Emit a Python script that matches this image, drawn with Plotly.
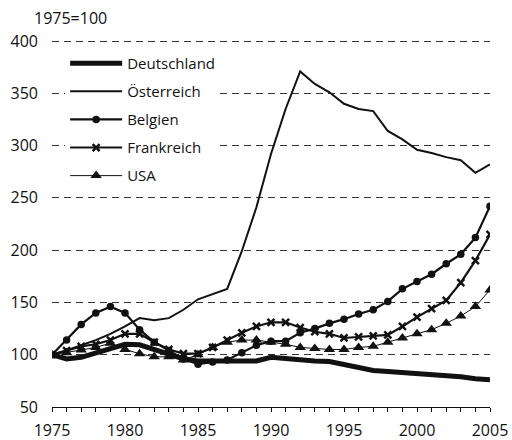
import plotly.graph_objects as go

years = list(range(1975, 2006))
deutschland = [100, 96, 97.5, 102, 106, 110, 109.5, 105, 100.5, 96, 94, 94, 94, 94, 94, 97.5, 96, 95, 94, 93.5, 90.5, 88, 85, 84, 83, 82, 81.5, 81, 79, 77, 76]
oesterreich = [100, 104, 109, 114, 120, 127, 135, 133, 135, 143, 153, 158, 163, 199, 241, 292, 335, 371, 359, 351, 340, 335, 333, 314, 306, 296, 293, 289, 286, 274, 282]
belgien = [100, 114, 129, 140, 146, 140, 124, 112, 104, 96, 91, 93, 95, 102, 109, 113, 113, 121, 125, 130, 134, 139, 143, 151, 163, 170, 177, 187, 196, 212, 242]
frankreich = [100, 104, 108, 110, 114, 120, 120, 112, 105, 101, 101, 107, 114, 121, 127, 131, 131, 126, 122, 120, 116, 117, 118, 119, 127, 136, 144, 152, 169, 190, 215]
usa = [100, 102, 104.5, 107, 111, 105, 101, 98, 98, 95, 100, 107, 112, 114, 114, 112, 110, 107, 106, 105, 105, 107, 108, 112, 116, 120, 124, 130, 137, 146, 162]
y_ticks = [50, 100, 150, 200, 250, 300, 350, 400]
x_ticks = [1975, 1980, 1985, 1990, 1995, 2000, 2005]

FONT = "Open Sans"
INK = "#111111"

fig = go.Figure()
fig.add_trace(go.Scatter(x=years, y=deutschland, name="Deutschland", mode="lines",
                         line=dict(color=INK, width=5), legendgroup="a"))
fig.add_trace(go.Scatter(x=years, y=oesterreich, name="Österreich", mode="lines",
                         line=dict(color=INK, width=2), legendgroup="b"))
fig.add_trace(go.Scatter(x=years, y=belgien, name="Belgien", mode="lines+markers",
                         line=dict(color=INK, width=2.2),
                         marker=dict(symbol="circle", size=7.5, color=INK), legendgroup="c"))
fig.add_trace(go.Scatter(x=years, y=frankreich, name="Frankreich", mode="lines+markers",
                         line=dict(color=INK, width=2.2),
                         marker=dict(symbol="x-thin", size=7, color=INK,
                                     line=dict(color=INK, width=2.5)), legendgroup="d"))
fig.add_trace(go.Scatter(x=years, y=usa, name="USA", mode="lines+markers",
                         line=dict(color=INK, width=1),
                         marker=dict(symbol="triangle-up", size=10, color=INK), legendgroup="e"))

fig.update_layout(
    width=512, height=440,
    margin=dict(l=52, r=22, t=40, b=33),
    paper_bgcolor="white", plot_bgcolor="white",
    font=dict(family=FONT, size=16, color=INK),
    showlegend=True,
    legend=dict(x=0.03, y=0.981, xanchor="left", yanchor="top",
                bgcolor="white", borderwidth=0, tracegroupgap=5.6,
                font=dict(family=FONT, size=15, color=INK), itemwidth=52),
    xaxis=dict(range=[1975, 2005], tickvals=x_ticks, ticktext=[str(v) for v in x_ticks],
               showgrid=False, zeroline=False, showline=True, linecolor=INK, linewidth=1,
               ticks="outside", ticklen=4, tickcolor=INK, tickwidth=1, automargin=False,
               minor=dict(dtick=1, tick0=1975, ticks="outside", ticklen=4, tickcolor=INK, tickwidth=1, showgrid=False),
               ticklabelstandoff=5, tickfont=dict(size=16)),
    yaxis=dict(range=[50, 401], tickvals=y_ticks, showgrid=True, gridcolor="#333333",
               gridwidth=1, griddash="7px,5px", zeroline=False, showline=False, automargin=False,
               ticks="", ticklabelstandoff=13, tickfont=dict(size=16)),
    annotations=[dict(text="1975=100", x=0, xref="paper", xanchor="left", xshift=-20,
                      y=1.0, yref="paper", yanchor="middle", yshift=22, showarrow=False,
                      font=dict(family=FONT, size=16, color=INK))],
)
fig.write_html("out.html", config={"displayModeBar": False},
               post_script="document.body.style.margin='0';document.body.style.overflow='hidden';")
